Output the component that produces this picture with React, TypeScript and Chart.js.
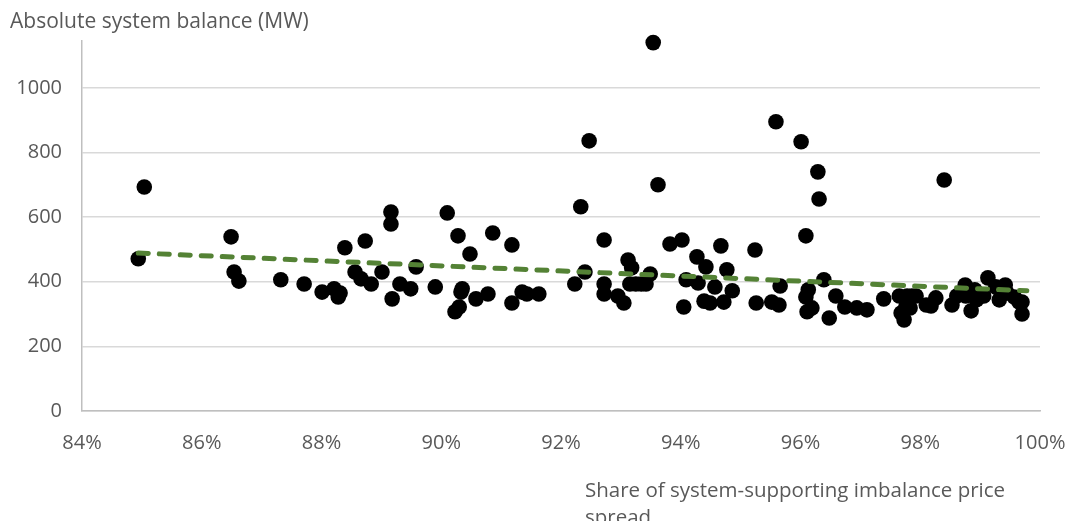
import React, { useEffect, useRef } from "react";
import { Chart, registerables } from "chart.js";

Chart.register(...registerables);

// Share of system-supporting imbalance price spread (fraction)
const shareValues: number[] = [
  0.8494, 0.8504, 0.8649, 0.8654, 0.8662, 0.8732, 0.8771, 0.8801, 0.8821, 0.8828,
  0.8831, 0.8839, 0.8856, 0.8866, 0.8873, 0.8883, 0.8901, 0.8916, 0.8916, 0.8918,
  0.8931, 0.8949, 0.8958, 0.8990, 0.9010, 0.9023, 0.9028, 0.9030, 0.9033, 0.9035,
  0.9048, 0.9058, 0.9078, 0.9086, 0.9118, 0.9118, 0.9135, 0.9143, 0.9163, 0.9223,
  0.9233, 0.9240, 0.9247, 0.9272, 0.9272, 0.9272, 0.9295, 0.9305, 0.9312, 0.9315,
  0.9318, 0.9325, 0.9334, 0.9342, 0.9349, 0.9354, 0.9362, 0.9382, 0.9402, 0.9405,
  0.9409, 0.9427, 0.9429, 0.9439, 0.9442, 0.9449, 0.9457, 0.9467, 0.9472, 0.9477,
  0.9486, 0.9524, 0.9526, 0.9552, 0.9559, 0.9564, 0.9566, 0.9601, 0.9609, 0.9609,
  0.9613, 0.9611, 0.9619, 0.9629, 0.9631, 0.9639, 0.9648, 0.9659, 0.9674, 0.9694,
  0.9711, 0.9739, 0.9765, 0.9768, 0.9773, 0.9776, 0.9778, 0.9783, 0.9786, 0.9793,
  0.9810, 0.9818, 0.9826, 0.9840, 0.9853, 0.9861, 0.9875, 0.9876, 0.9885, 0.9891,
  0.9894, 0.9906, 0.9913, 0.9926, 0.9932, 0.9942, 0.9945, 0.9957, 0.9965, 0.9970,
  0.9970,
];

// Absolute system balance (MW)
const balanceValues: number[] = [
  471, 693, 539, 430, 402, 406, 393, 368, 378, 353,
  365, 505, 430, 409, 526, 393, 430, 616, 579, 347,
  393, 378, 446, 384, 613, 307, 542, 322, 368, 378,
  486, 347, 362, 551, 514, 334, 368, 362, 362, 393,
  632, 430, 836, 529, 393, 362, 356, 334, 467, 393,
  443, 393, 393, 393, 424, 1140, 700, 517, 529, 322,
  406, 477, 396, 340, 446, 334, 384, 511, 337, 437,
  372, 498, 334, 337, 895, 328, 387, 833, 542, 353,
  375, 307, 319, 740, 656, 406, 288, 356, 322, 319,
  313, 347, 356, 303, 282, 322, 356, 319, 356, 356,
  328, 325, 350, 715, 328, 356, 390, 356, 310, 375,
  344, 356, 412, 384, 344, 390, 365, 353, 337, 300,
  337,
];

// Linear trendline endpoints
const trendX: number[] = [0.8494, 0.9978];
const trendY: number[] = [489, 372];

const xTicks = { min: 0.84, max: 1.0, step: 0.02 };
const yTicks = { min: 0, max: 1145, step: 200 };

const yTitle = "Absolute system balance (MW)";
const xTitleLines: string[] = ["Share of system-supporting imbalance price", "spread"];

const FONT = "'Open Sans', 'Noto Sans', sans-serif";
const TEXT_COLOR = "#595959";

const titlesPlugin = {
  id: "axisTitles",
  afterDraw(chart: any) {
    const ctx = chart.ctx;
    ctx.save();
    ctx.fillStyle = TEXT_COLOR;
    ctx.font = `21px ${FONT}`;
    ctx.textBaseline = "middle";
    ctx.textAlign = "left";
    ctx.fillText(yTitle, 10, 22);
    ctx.font = `20.5px ${FONT}`;
    xTitleLines.forEach((line, i) => {
      ctx.fillText(line, 585, 491 + i * 27);
    });
    ctx.restore();
  },
};

export default function App() {
  const canvasRef = useRef<HTMLCanvasElement | null>(null);

  useEffect(() => {
    if (!canvasRef.current) return;
    const points = shareValues.map((x, i) => ({ x, y: balanceValues[i] }));
    const trend = trendX.map((x, i) => ({ x, y: trendY[i] }));
    const chart = new Chart(canvasRef.current, {
      type: "scatter",
      data: {
        datasets: [
          {
            type: "line",
            label: "Trend",
            data: trend,
            borderColor: "#548235",
            borderWidth: 5,
            borderDash: [10, 11],
            borderCapStyle: "round",
            pointRadius: 0,
            fill: false,
            order: 0,
          } as any,
          {
            label: "Balance",
            data: points,
            backgroundColor: "#000000",
            borderColor: "#000000",
            borderWidth: 0,
            pointRadius: 7.8,
            pointHoverRadius: 7.8,
            clip: false,
            order: 1,
          } as any,
        ],
      },
      options: {
        responsive: false,
        animation: false,
        maintainAspectRatio: false,
        layout: { padding: { top: 41, right: 34, bottom: 0, left: 0 } },
        plugins: {
          legend: { display: false },
          tooltip: { enabled: false },
          title: { display: false },
        },
        scales: {
          x: {
            type: "linear",
            min: xTicks.min,
            max: xTicks.max,
            grid: { display: false },
            border: { display: true, color: "#bfbfbf", width: 1.5 },
            ticks: {
              stepSize: xTicks.step,
              color: TEXT_COLOR,
              font: { family: FONT, size: 20 },
              padding: 12,
              maxRotation: 0,
              callback: (v: any) => Math.round(Number(v) * 100) + "%",
            },
            afterFit: (scale: any) => {
              scale.height = 110;
              scale.paddingLeft = 0;
              scale.paddingRight = 0;
            },
          },
          y: {
            type: "linear",
            min: yTicks.min,
            max: yTicks.max,
            grid: { display: true, color: "#d9d9d9", lineWidth: 1.5, drawTicks: false },
            border: { display: true, color: "#bfbfbf", width: 1.5 },
            ticks: {
              stepSize: yTicks.step,
              color: TEXT_COLOR,
              font: { family: FONT, size: 20 },
              padding: 20,
              callback: (v: any) => String(Math.round(Number(v))),
            },
            afterBuildTicks: (scale: any) => {
              scale.ticks = scale.ticks.filter((t: any) => t.value % yTicks.step === 0);
            },
            afterFit: (scale: any) => {
              scale.width = 82;
              scale.paddingTop = 0;
              scale.paddingBottom = 0;
            },
          },
        },
      },
      plugins: [titlesPlugin],
    });
    return () => chart.destroy();
  }, []);

  return (
    <div style={{ position: "fixed", left: 0, top: 0, width: 1074, height: 521, background: "#fff" }}>
      <canvas ref={canvasRef} width={1074} height={521} style={{ width: 1074, height: 521 }} />
    </div>
  );
}
